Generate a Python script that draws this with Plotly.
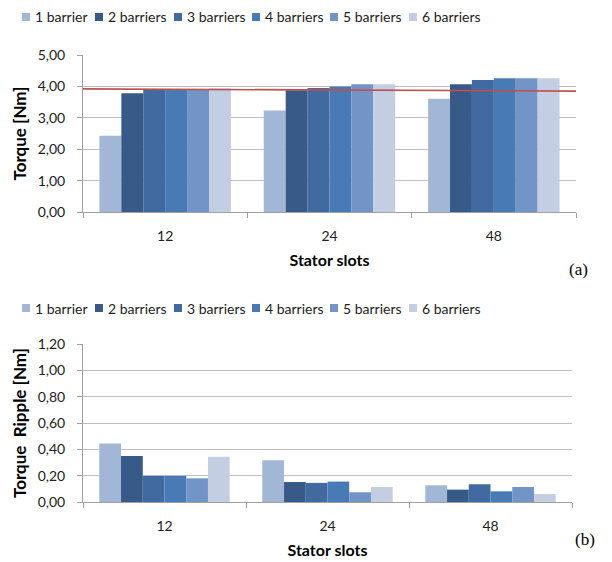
import plotly.graph_objects as go

categories = ["12", "24", "48"]
series_names = ["1 barrier", "2 barriers", "3 barriers", "4 barriers", "5 barriers", "6 barriers"]
colors = ["#A2B6D6", "#375A89", "#406AA0", "#487AB5", "#7294C7", "#C3CEE2"]

torque = {
    "1 barrier":  [2.43, 3.23, 3.61],
    "2 barriers": [3.78, 3.88, 4.07],
    "3 barriers": [3.91, 3.95, 4.20],
    "4 barriers": [3.91, 4.00, 4.26],
    "5 barriers": [3.92, 4.07, 4.26],
    "6 barriers": [3.94, 4.07, 4.26],
}
ripple = {
    "1 barrier":  [0.444, 0.317, 0.127],
    "2 barriers": [0.350, 0.152, 0.094],
    "3 barriers": [0.198, 0.145, 0.135],
    "4 barriers": [0.198, 0.155, 0.081],
    "5 barriers": [0.180, 0.074, 0.114],
    "6 barriers": [0.343, 0.114, 0.061],
}
ref_line_x = [0, 1]
ref_line_y = [3.92, 3.85]

FONT = "Lato"
W, H = 612, 562

def px(x):
    return x / W

def py(y):
    return 1 - y / H

fig = go.Figure()

for name, col in zip(series_names, colors):
    fig.add_trace(go.Bar(x=categories, y=torque[name], name=name, marker=dict(color=col, line=dict(width=0)),
                         xaxis="x", yaxis="y", showlegend=False))
for name, col in zip(series_names, colors):
    fig.add_trace(go.Bar(x=categories, y=ripple[name], name=name, marker=dict(color=col, line=dict(width=0)),
                         xaxis="x2", yaxis="y2", showlegend=False))

fig.add_trace(go.Scatter(x=ref_line_x, y=ref_line_y, mode="lines", line=dict(color="#C0504D", width=1.6),
                         xaxis="x3", yaxis="y", showlegend=False, hoverinfo="skip"))

grid = "#BFBFBF"
axfont = dict(family=FONT, size=14, color="#222222")
xtitlefont = dict(family=FONT, size=16, color="#000000", weight="bold")
ytitlefont = dict(family=FONT, size=17, color="#000000", weight="bold")

xcommon = dict(type="category", tickson="boundaries", ticks="outside", ticklen=5, tickcolor="#A0A0A0",
               showline=True, linecolor="#A0A0A0", linewidth=1, showgrid=False, tickfont=axfont,
               ticklabelstandoff=11, automargin=False,
               title=dict(text="Stator slots", font=xtitlefont, standoff=12))
ycommon = dict(ticks="outside", ticklen=5, tickcolor="#A0A0A0", showline=True, linecolor="#A0A0A0",
               linewidth=1, showgrid=True, gridcolor=grid, gridwidth=1, tickfont=axfont,
               tickformat=".2f", ticklabelstandoff=9, zeroline=False, automargin=False)

# custom legend (small squares + labels) for both panels
legend_sq_x = [22, 95, 174, 252, 330, 409]
shapes = []
annotations = []
for yc in (17, 308):
    for xl, name, col in zip(legend_sq_x, series_names, colors):
        shapes.append(dict(type="rect", xref="paper", yref="paper",
                           x0=px(xl), x1=px(xl + 8), y0=py(yc + 4), y1=py(yc - 4),
                           fillcolor=col, line=dict(width=0)))
        annotations.append(dict(text=name, x=px(xl + 11), y=py(yc), xref="paper", yref="paper",
                                xanchor="left", yanchor="middle", showarrow=False,
                                font=dict(family=FONT, size=14, color="#222222")))

annotations += [
    dict(text="(a)", x=px(590), y=py(269), xref="paper", yref="paper", showarrow=False,
         font=dict(family="Liberation Serif", size=17, color="#000000")),
    dict(text="(b)", x=px(597), y=py(551), xref="paper", yref="paper", showarrow=False,
         font=dict(family="Liberation Serif", size=17, color="#000000")),
]

fig.update_layout(
    width=W, height=H,
    margin=dict(l=0, r=0, t=0, b=0),
    paper_bgcolor="white", plot_bgcolor="white",
    separators=",.",
    barmode="group", bargap=0.2, bargroupgap=0,
    showlegend=False,
    font=dict(family=FONT, size=14, color="#222222"),
    xaxis=dict(domain=[px(83), px(576)], anchor="y", **xcommon),
    yaxis=dict(domain=[py(212), py(55)], anchor="x", range=[0, 5], dtick=1,
               title=dict(text="Torque [Nm]", font=ytitlefont, standoff=6), **ycommon),
    xaxis3=dict(domain=[px(83), px(576)], anchor="y", overlaying="x", range=[0, 1], visible=False),
    xaxis2=dict(domain=[px(83), px(572)], anchor="y2", **xcommon),
    yaxis2=dict(domain=[py(502), py(344)], anchor="x2", range=[0, 1.2], dtick=0.2,
                title=dict(text="Torque\u00a0\u00a0Ripple [Nm]", font=ytitlefont, standoff=6), **ycommon),
    shapes=shapes,
    annotations=annotations,
)

fig.write_html("out.html", config={"displayModeBar": False},
               post_script="document.body.style.margin='0px';")
